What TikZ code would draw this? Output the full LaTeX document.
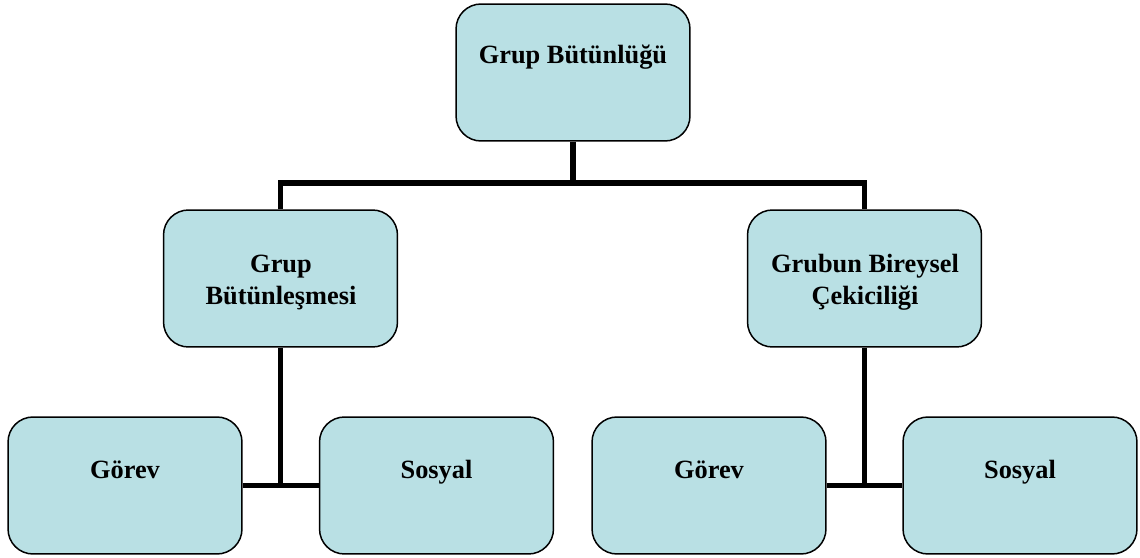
\documentclass[tikz,border=0pt]{standalone}
\usepackage{fontspec}
\setmainfont{Liberation Serif}
\definecolor{boxfill}{RGB}{185,224,228}
\begin{document}
\begin{tikzpicture}[x=0.02cm,y=-0.02cm,
  orgbox/.style={draw=black,line width=0.85pt,fill=boxfill,rounded corners=0.5cm,
    minimum width=4.68cm,minimum height=2.74cm,inner sep=0pt},
  lbl/.style={font=\fontsize{15}{18.2}\selectfont\bfseries,align=center,inner sep=0pt},
  conn/.style={line width=2.9pt}]
\useasboundingbox (0,0) rectangle (1140,558);
\node[orgbox] (top) at (573,72.5) {};
\node[orgbox] (midL) at (280.5,278.5) {};
\node[orgbox] (midR) at (864.5,278.5) {};
\node[orgbox] (botL1) at (125,485.5) {};
\node[orgbox] (botL2) at (436.5,485.5) {};
\node[orgbox] (botR1) at (709,485.5) {};
\node[orgbox] (botR2) at (1020,485.5) {};
\node[lbl,anchor=base] (tTop) at (573,63) {Grup Bütünlüğü};
\node[lbl] (tMidL) at (281,282) {Grup\\Bütünleşmesi};
\node[lbl] (tMidR) at (865,282) {Grubun Bireysel\\Çekiciliği};
\node[lbl,anchor=base] (tBotL1) at (125,478) {Görev};
\node[lbl,anchor=base] (tBotL2) at (436.5,478) {Sosyal};
\node[lbl,anchor=base] (tBotR1) at (709,478) {Görev};
\node[lbl,anchor=base] (tBotR2) at (1020,478) {Sosyal};
\coordinate (bus) at (573,183);
\draw[conn] (top.south) -- (bus);
\draw[conn] (midL.north) |- (bus) -| (midR.north);
\draw[conn] (midL.south) -- (midL.south |- botL1.east);
\draw[conn] (botL1.east) -- (botL2.west);
\draw[conn] (midR.south) -- (midR.south |- botR1.east);
\draw[conn] (botR1.east) -- (botR2.west);
\end{tikzpicture}
\end{document}
